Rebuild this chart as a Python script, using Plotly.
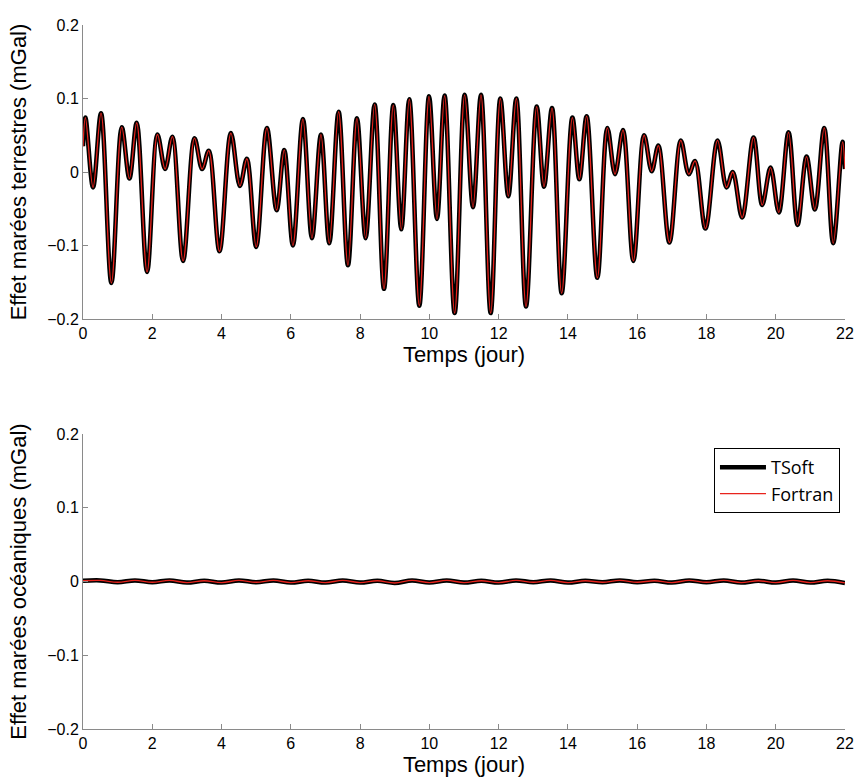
import plotly.graph_objects as go
from plotly.subplots import make_subplots

# --- data (extrema of the tidal signal) ---
t_terre = [0.00, 0.07, 0.29, 0.52, 0.82, 1.12, 1.34, 1.55, 1.85, 2.15, 2.37, 2.58, 2.89, 3.22,
           3.44, 3.63, 3.94, 4.27, 4.53, 4.73, 5.00, 5.31, 5.59, 5.81, 6.06, 6.35, 6.61, 6.87,
           7.11, 7.38, 7.65, 7.91, 8.16, 8.42, 8.69, 8.96, 9.19, 9.42, 9.71, 9.99, 10.22, 10.44,
           10.73, 11.02, 11.26, 11.49, 11.77, 12.05, 12.28, 12.51, 12.79, 13.10, 13.31, 13.54,
           13.82, 14.13, 14.33, 14.54, 14.85, 15.14, 15.36, 15.59, 15.89, 16.20, 16.42, 16.61,
           16.93, 17.26, 17.49, 17.67, 17.97, 18.32, 18.58, 18.76, 19.03, 19.36, 19.61, 19.85,
           20.09, 20.37, 20.63, 20.89, 21.13, 21.40, 21.66, 21.93, 22.00]
v_terre_tsoft = [0.035, 0.074, -0.021, 0.080, -0.151, 0.061, -0.009, 0.067, -0.136, 0.051, 0.004,
                 0.048, -0.121, 0.046, 0.004, 0.029, -0.108, 0.053, -0.019, 0.018, -0.102, 0.060,
                 -0.052, 0.030, -0.100, 0.072, -0.090, 0.051, -0.097, 0.082, -0.127, 0.073, -0.090,
                 0.092, -0.159, 0.091, -0.078, 0.099, -0.182, 0.103, -0.064, 0.104, -0.192, 0.105,
                 -0.048, 0.105, -0.192, 0.100, -0.033, 0.100, -0.183, 0.089, -0.020, 0.087, -0.165,
                 0.074, -0.010, 0.076, -0.144, 0.060, -0.003, 0.057, -0.121, 0.050, 0.001, 0.036,
                 -0.096, 0.043, -0.003, 0.015, -0.077, 0.043, -0.021, 0.000, -0.062, 0.047, -0.045,
                 0.006, -0.055, 0.054, -0.072, 0.021, -0.051, 0.060, -0.097, 0.041, 0.004]
v_terre_fortran = list(v_terre_tsoft)

t_ocean = [0.0, 0.5, 1.0, 1.5, 2.0, 2.5, 3.0, 3.5, 4.0, 4.5, 5.0, 5.5, 6.0, 6.5, 7.0, 7.5, 8.0,
           8.5, 9.0, 9.5, 10.0, 10.5, 11.0, 11.5, 12.0, 12.5, 13.0, 13.5, 14.0, 14.5, 15.0, 15.5,
           16.0, 16.5, 17.0, 17.5, 18.0, 18.5, 19.0, 19.5, 20.0, 20.5, 21.0, 21.5, 22.0]
v_ocean_tsoft = [0.001, 0.0015, -0.001, 0.0015, -0.001, 0.0015, -0.0015, 0.001, -0.0015, 0.0015,
                 -0.001, 0.0015, -0.0015, 0.001, -0.0015, 0.0015, -0.0015, 0.001, -0.002, 0.0015,
                 -0.0015, 0.0015, -0.0015, 0.001, -0.0015, 0.0015, -0.001, 0.0015, -0.0015, 0.001,
                 -0.001, 0.0015, -0.001, 0.001, -0.0015, 0.0015, -0.001, 0.0015, -0.0015, 0.001,
                 -0.0015, 0.0015, -0.0015, 0.001, -0.002]
v_ocean_fortran = list(v_ocean_tsoft)

x_ticks = [0, 2, 4, 6, 8, 10, 12, 14, 16, 18, 20, 22]
y_ticks = [-0.2, -0.1, 0, 0.1, 0.2]
y_ticklabels = ["\u22120.2", "\u22120.1", "0", "0.1", "0.2"]

BLACK = "#000000"
RED = "#e8231c"
AXIS = "#8a8a8a"
FONT = "Liberation Sans, Arial, sans-serif"

fig = make_subplots(rows=2, cols=1, vertical_spacing=0.1634)

for row, t, a, b, show in [(1, t_terre, v_terre_tsoft, v_terre_fortran, False),
                           (2, t_ocean, v_ocean_tsoft, v_ocean_fortran, True)]:
    fig.add_trace(go.Scatter(x=t, y=a, mode="lines", name="TSoft", showlegend=show,
                             line=dict(color=BLACK, width=4.5, shape="spline", smoothing=1.0)),
                  row=row, col=1)
    fig.add_trace(go.Scatter(x=t, y=b, mode="lines", name="Fortran", showlegend=show,
                             line=dict(color=RED, width=1.3, shape="spline", smoothing=1.0)),
                  row=row, col=1)

axis_common = dict(showline=True, linecolor=AXIS, linewidth=1, mirror=False, showgrid=False,
                   zeroline=False, ticks="inside", ticklen=5, tickcolor=AXIS, tickwidth=1,
                   automargin=False,
                   tickfont=dict(family=FONT, size=16, color="black"))

fig.update_layout(yaxis=dict(domain=[0.5824, 1.0]), yaxis2=dict(domain=[0.0, 0.419]))
for r, ytitle in [(1, "Effet marées terrestres (mGal)"), (2, "Effet marées océaniques (mGal)")]:
    fig.update_xaxes(range=[0, 22], tickvals=x_ticks, **axis_common,
                     title=dict(text="Temps (jour)", font=dict(family=FONT, size=22, color="black"),
                                standoff=2), row=r, col=1)
    fig.update_yaxes(range=[-0.2, 0.2], tickvals=y_ticks, ticktext=y_ticklabels, **axis_common,
                     title=dict(text=ytitle, font=dict(family=FONT, size=22, color="black"),
                                standoff=14), row=r, col=1)

fig.update_layout(
    width=856, height=780,
    margin=dict(l=83, r=11, t=25, b=51),
    paper_bgcolor="white", plot_bgcolor="white",
    legend=dict(x=0.9934, y=0.399, xanchor="right", yanchor="top",
                bgcolor="white", bordercolor="black", borderwidth=1, itemwidth=46,
                font=dict(family="Open Sans, Noto Sans, sans-serif", size=18, color="black"),
                tracegroupgap=0),
)

fig.write_html("out.html", config={"displayModeBar": False},
               post_script="document.body.style.margin='0';document.body.style.overflow='hidden';")
